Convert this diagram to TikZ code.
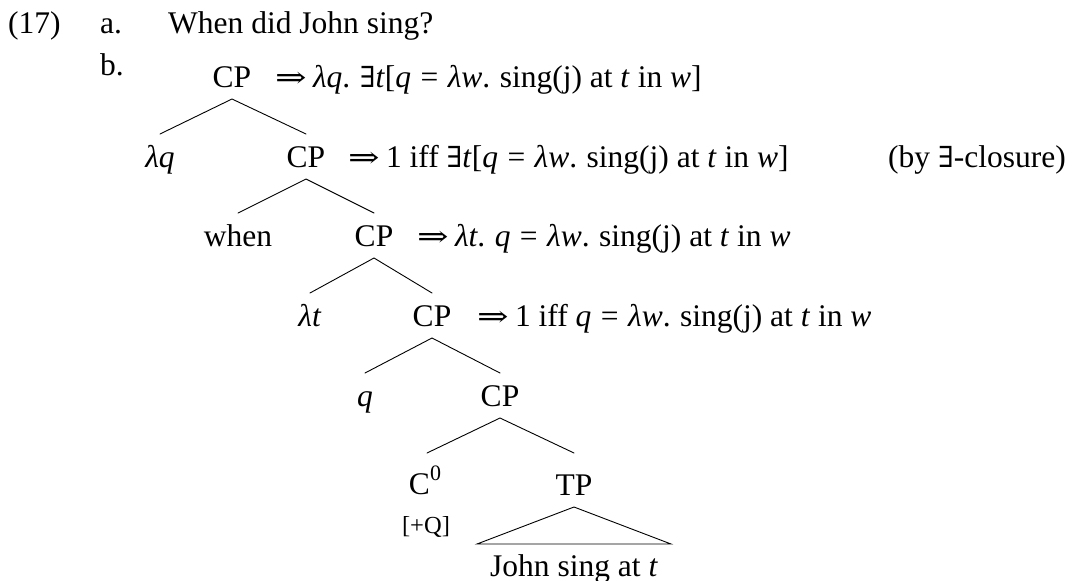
\documentclass[tikz,border=0pt]{standalone}
\usepackage{graphicx}
\usepackage{fontspec}
\setmainfont{Liberation Serif}
\newfontfamily\symf[Scale=0.92]{DejaVu Serif}
\tikzset{
  lbl/.style={inner sep=0pt, anchor=base, font=\fontsize{31.5}{38}\selectfont},
  ann/.style={lbl, anchor=base west},
  small/.style={lbl, font=\fontsize{24.5}{30}\selectfont},
  branch/.style={line width=0.9pt, line cap=round},
}
\newcommand{\I}[1]{\textit{#1}}
\newcommand{\gap}{\hspace{0.3em}}
\newcommand{\imp}{\scalebox{1.3}[1]{\symf ⇒}\hspace{0.2em}}
\newcommand{\ex}{{\symf ∃}}
\newcommand{\eqs}{\gap=\gap}
\newcommand{\tw}{\I{λw}.\gap sing(j) at \I{t} in \I{w}}
\begin{document}
\begin{tikzpicture}[x=1pt,y=-1pt]
\useasboundingbox (0,0) rectangle (1079,581);
% example header
\node[ann] (num) at (8,33) {(17)};
\node[ann] (ia) at (100,33) {a.};
\node[ann] (qa) at (168,33) {When did John sing?};
\node[ann] (ib) at (100,75) {b.};
% tree labels
\node[lbl] (cpa) at (232,87) {CP};
\node[ann] (anna) at (275,87) {\imp\I{λq}.\gap\ex\I{t}[\I{q}\eqs\tw]};
\node[lbl] (lq) at (160,167) {\I{λq}};
\node[lbl] (cpb) at (306,167) {CP};
\node[ann] (annb) at (348,167) {\imp 1 iff \ex\I{t}[\I{q}\eqs\tw]};
\node[ann] (clos) at (888,167) {(by \ex-closure)};
\node[lbl] (when) at (238,246) {when};
\node[lbl] (cpc) at (374,246) {CP};
\node[ann] (annc) at (417,246) {\imp\I{λt}.\gap\I{q}\eqs\tw};
\node[lbl] (lt) at (310,326) {\I{λt}};
\node[lbl] (cpd) at (432,326) {CP};
\node[ann] (annd) at (477,326) {\imp 1 iff \I{q}\eqs\tw};
\node[lbl] (q) at (365,406) {\I{q}};
\node[lbl] (cpe) at (500,406) {CP};
\node[lbl] (c0) at (425,494) {C\raisebox{0.42em}{\fontsize{22}{26}\selectfont 0}};
\node[small] (feat) at (426,533) {[+Q]};
\node[lbl] (tp) at (574,495) {TP};
\node[lbl] (john) at (574,576) {John sing at \I{t}};
% branches
\draw[branch] ([yshift=33pt]lq.base) -- ([yshift=-12pt]cpa.base) -- ([yshift=33pt]cpb.base);
\draw[branch] ([yshift=33pt]when.base) -- ([yshift=-12pt]cpb.base) -- ([yshift=33pt]cpc.base);
\draw[branch] ([yshift=33pt]lt.base) -- ([yshift=-12pt]cpc.base) -- ([yshift=33pt]cpd.base);
\draw[branch] ([yshift=33pt]q.base) -- ([yshift=-12pt]cpd.base) -- ([yshift=33pt]cpe.base);
\draw[branch] ([xshift=2pt,yshift=41pt]c0.base) -- ([yshift=-12pt]cpe.base) -- ([yshift=42pt]tp.base);
\draw[branch] ([yshift=-12pt]tp.base) -- ([xshift=-97pt,yshift=32pt]john.base) -- ([xshift=97pt,yshift=32pt]john.base) -- cycle;
\end{tikzpicture}
\end{document}
